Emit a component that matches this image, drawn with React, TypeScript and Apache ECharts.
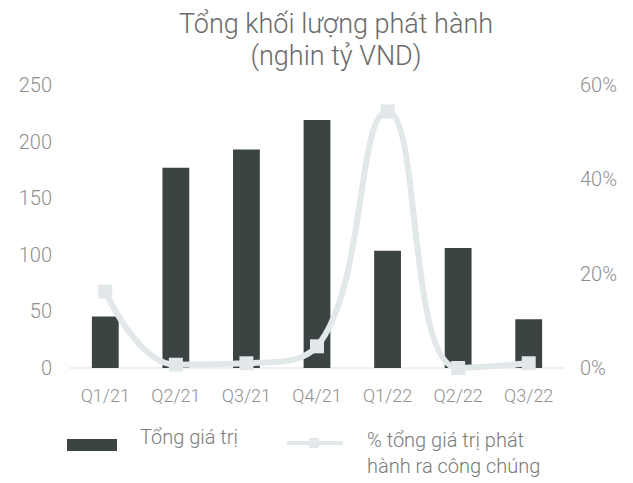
import React, { useEffect, useRef } from "react";
import * as echarts from "echarts";

const categories = ["Q1/21", "Q2/21", "Q3/21", "Q4/21", "Q1/22", "Q2/22", "Q3/22"];
const totalValues = [45.5, 177, 193, 219, 103.5, 106, 43];
const publicShare = [16.2, 0.7, 1, 4.6, 54.4, 0, 1];
const leftTicks = [0, 50, 100, 150, 200, 250];
const rightTicks = [0, 20, 40, 60];

const barColor = "#3c4443";
const lineColor = "#e2e8ea";
const textColor = "#8f8f8f";
const font = "Roboto";

export default function App() {
  const ref = useRef<HTMLDivElement>(null);
  useEffect(() => {
    if (!ref.current) return;
    const chart = echarts.init(ref.current, null, { renderer: "svg" });
    chart.setOption({
      animation: false,
      backgroundColor: "#ffffff",
      textStyle: { fontFamily: font },
      title: {
        text: "Tổng khối lượng phát hành\n(nghin tỷ VND)",
        left: 331,
        top: 3,
        textAlign: "center",
        textStyle: {
          fontFamily: font,
          fontWeight: 300,
          fontSize: 27,
          color: "#6a6a6a",
          lineHeight: 32,
        },
      },
      grid: { left: 70, right: 69, top: 85, bottom: 115 },
      xAxis: {
        type: "category",
        data: categories,
        axisLine: { show: true, lineStyle: { color: "#f0f0f0", width: 2 } },
        axisTick: { show: false },
        axisLabel: { color: textColor, fontSize: 18, fontWeight: 300, margin: 18, fontFamily: font },
      },
      yAxis: [
        {
          type: "value",
          min: leftTicks[0],
          max: leftTicks[leftTicks.length - 1],
          interval: 50,
          splitLine: { show: false },
          axisLine: { show: false },
          axisTick: { show: false },
          axisLabel: { color: textColor, fontSize: 20, fontWeight: 300, margin: 18, fontFamily: font },
        },
        {
          type: "value",
          min: rightTicks[0],
          max: rightTicks[rightTicks.length - 1],
          interval: 20,
          splitLine: { show: false },
          axisLine: { show: false },
          axisTick: { show: false },
          axisLabel: {
            color: textColor,
            fontSize: 20,
            fontWeight: 300,
            margin: 16,
            fontFamily: font,
            formatter: "{value}%",
          },
        },
      ],
      series: [
        {
          name: "Tổng giá trị",
          type: "bar",
          data: totalValues,
          barWidth: "38%",
          itemStyle: { color: barColor },
          yAxisIndex: 0,
        },
        {
          name: "% tổng giá trị phát hành ra công chúng",
          type: "line",
          data: publicShare,
          yAxisIndex: 1,
          smooth: 0.45,
          symbol: "rect",
          symbolSize: 14,
          lineStyle: { color: lineColor, width: 6 },
          itemStyle: { color: lineColor },
          z: 5,
        },
      ],
      graphic: [
        { type: "rect", left: 67, top: 439, shape: { width: 50, height: 12 }, style: { fill: barColor } },
        {
          type: "text",
          left: 140,
          top: 427,
          style: { text: "Tổng giá trị", fill: "#7a7a7a", font: `300 20px ${font}` },
        },
        {
          type: "line",
          shape: { x1: 287, y1: 443, x2: 343, y2: 443 },
          style: { stroke: lineColor, lineWidth: 4 },
        },
        { type: "rect", left: 309, top: 438, shape: { width: 10, height: 10 }, style: { fill: lineColor } },
        {
          type: "text",
          left: 367,
          top: 427,
          style: {
            text: "% tổng giá trị phát\nhành ra công chúng",
            fill: "#7a7a7a",
            font: `300 20px ${font}`,
            lineHeight: 26,
          },
        },
      ],
    });
    return () => chart.dispose();
  }, []);
  return <div ref={ref} style={{ width: 633, height: 483, position: "absolute", left: 0, top: 0 }} />;
}
